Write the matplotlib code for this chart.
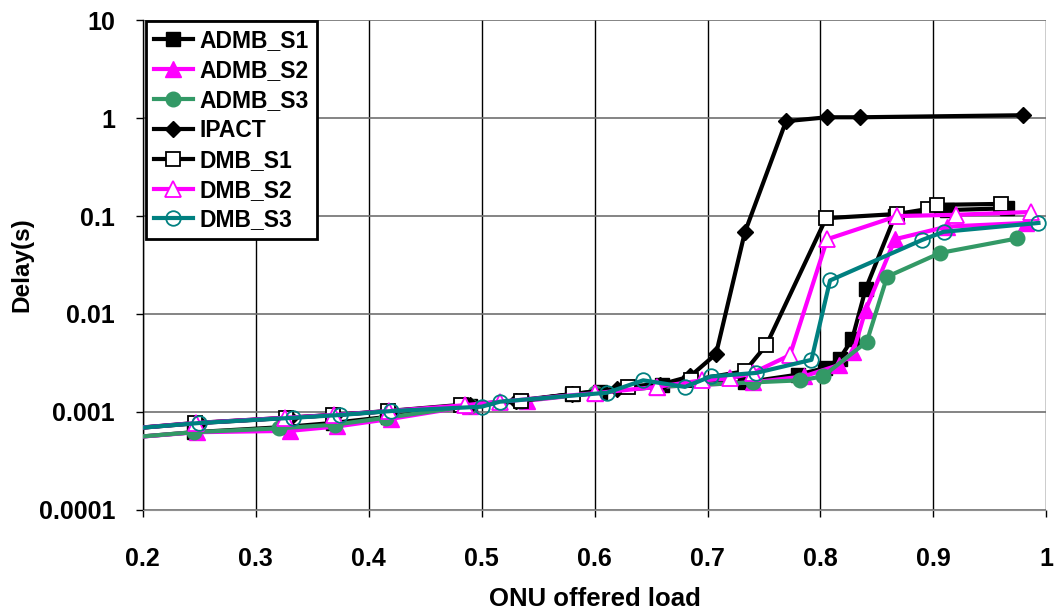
import matplotlib
matplotlib.use("Agg")
import matplotlib.pyplot as plt

plt.rcParams["font.family"] = ["Liberation Sans", "DejaVu Sans"]
plt.rcParams["font.weight"] = "bold"

# data (x = ONU offered load, y = delay in s)
admb_s1_x = [0.165, 0.245, 0.325, 0.368, 0.417, 0.49, 0.535, 0.58, 0.605, 0.66,
             0.733, 0.78, 0.804, 0.817, 0.828, 0.84, 0.866, 0.912, 0.965]
admb_s1_y = [0.00052, 0.00062, 0.00070, 0.00077, 0.00089, 0.00114, 0.0013, 0.00152,
             0.0016, 0.0019, 0.0020, 0.0024, 0.0028, 0.0035, 0.0055, 0.018, 0.10,
             0.115, 0.12]

admb_s2_x = [0.165, 0.248, 0.33, 0.372, 0.42, 0.49, 0.54, 0.60, 0.655, 0.74,
             0.785, 0.816, 0.829, 0.84, 0.866, 0.912, 0.982]
admb_s2_y = [0.00052, 0.00062, 0.00064, 0.00071, 0.00085, 0.00115, 0.0013, 0.00155,
             0.0018, 0.0020, 0.0023, 0.0030, 0.0041, 0.011, 0.058, 0.078, 0.085]

admb_s3_x = [0.165, 0.245, 0.321, 0.37, 0.415, 0.49, 0.535, 0.60, 0.655, 0.74,
             0.782, 0.802, 0.841, 0.859, 0.906, 0.974]
admb_s3_y = [0.00052, 0.00062, 0.00068, 0.00074, 0.00087, 0.00115, 0.0013, 0.00155,
             0.0018, 0.0020, 0.0021, 0.0023, 0.0052, 0.024, 0.042, 0.059]

ipact_x = [0.165, 0.25, 0.33, 0.37, 0.42, 0.49, 0.53, 0.58, 0.62, 0.658, 0.6845,
           0.7075, 0.733, 0.7695, 0.8056, 0.835, 0.979]
ipact_y = [0.00064, 0.00077, 0.00087, 0.00093, 0.00102, 0.00118, 0.0013, 0.00152,
           0.0017, 0.0019, 0.0023, 0.0039, 0.068, 0.93, 1.02, 1.02, 1.07]

dmb_s1_x = [0.165, 0.246, 0.327, 0.368, 0.417, 0.482, 0.535, 0.581, 0.63, 0.685,
            0.733, 0.752, 0.805, 0.868, 0.895, 0.903, 0.96]
dmb_s1_y = [0.00064, 0.00077, 0.00087, 0.00093, 0.00102, 0.00118, 0.0013, 0.00152,
            0.0018, 0.0021, 0.0026, 0.0048, 0.095, 0.105, 0.118, 0.13, 0.133]

dmb_s2_x = [0.165, 0.247, 0.326, 0.369, 0.418, 0.485, 0.516, 0.60, 0.655, 0.695,
            0.72, 0.74, 0.773, 0.806, 0.868, 0.92, 0.986]
dmb_s2_y = [0.00064, 0.00077, 0.00087, 0.00093, 0.00102, 0.00117, 0.00127, 0.00155,
            0.0018, 0.0021, 0.0022, 0.0025, 0.0038, 0.058, 0.10, 0.103, 0.11]

dmb_s3_x = [0.165, 0.25, 0.333, 0.375, 0.42, 0.50, 0.516, 0.611, 0.643, 0.68,
            0.703, 0.743, 0.792, 0.8085, 0.89, 0.909, 0.993]
dmb_s3_y = [0.00064, 0.00077, 0.00087, 0.00093, 0.00102, 0.00113, 0.00127, 0.00157,
            0.0021, 0.0018, 0.0023, 0.0025, 0.0034, 0.022, 0.057, 0.069, 0.085]

x_ticks = [0.2, 0.3, 0.4, 0.5, 0.6, 0.7, 0.8, 0.9, 1.0]
x_tick_labels = ["0.2", "0.3", "0.4", "0.5", "0.6", "0.7", "0.8", "0.9", "1"]
y_ticks = [0.0001, 0.001, 0.01, 0.1, 1, 10]
y_tick_labels = ["0.0001", "0.001", "0.01", "0.1", "1", "10"]

MAGENTA = "#ff00ff"
GREEN = "#339966"
TEAL = "#008080"

fig = plt.figure(figsize=(10.58, 6.12), dpi=100)
ax = fig.add_axes([0.135, 0.167, 0.854, 0.800])

lw = 3.0
ms = 10.5
ax.plot(admb_s1_x, admb_s1_y, "-s", color="black", lw=lw, ms=ms,
        mfc="black", mec="black", label="ADMB_S1", zorder=3)
ax.plot(admb_s2_x, admb_s2_y, "-^", color=MAGENTA, lw=lw, ms=ms + 1,
        mfc=MAGENTA, mec=MAGENTA, label="ADMB_S2", zorder=3)
ax.plot(admb_s3_x, admb_s3_y, "-o", color=GREEN, lw=lw, ms=ms,
        mfc=GREEN, mec=GREEN, label="ADMB_S3", zorder=3)
ax.plot(ipact_x, ipact_y, "-D", color="black", lw=lw, ms=ms - 2,
        mfc="black", mec="black", label="IPACT", zorder=3)
ax.plot(dmb_s1_x, dmb_s1_y, "-s", color="black", lw=lw, ms=ms,
        mfc="white", mec="black", mew=1.3, label="DMB_S1", zorder=4)
ax.plot(dmb_s2_x, dmb_s2_y, "-^", color=MAGENTA, lw=lw, ms=ms + 1,
        mfc="white", mec=MAGENTA, mew=1.3, label="DMB_S2", zorder=4)
ax.plot(dmb_s3_x, dmb_s3_y, "-o", color=TEAL, lw=lw, ms=ms,
        mfc="none", mec=TEAL, mew=1.3, label="DMB_S3", zorder=4)

ax.set_yscale("log")
ax.set_xlim(0.2, 1.0)
ax.set_ylim(0.0001, 10)
ax.set_xticks(x_ticks)
ax.set_xticklabels(x_tick_labels)
ax.set_yticks(y_ticks)
ax.set_yticklabels(y_tick_labels)
ax.minorticks_off()
ax.tick_params(labelsize=18, length=5, width=1)
ax.tick_params(axis="y", pad=15)
ax.tick_params(axis="x", pad=22)

ax.xaxis.grid(True, color="black", linewidth=1)
ax.yaxis.grid(True, color="#707070", linewidth=1.2)
ax.set_axisbelow(True)
for side in ["top", "right"]:
    ax.spines[side].set_visible(False)
ax.spines["left"].set_linewidth(1)
ax.spines["bottom"].set_color("#909090")

ax.set_xlabel("ONU offered load", fontsize=18.5, fontweight="bold", labelpad=11)
ax.set_ylabel("Delay(s)", fontsize=17.5, fontweight="bold", labelpad=4)

leg = ax.legend(loc="upper left", bbox_to_anchor=(0.003, 0.998), fontsize=16.5,
                frameon=True, fancybox=False, edgecolor="black",
                handlelength=1.7, handletextpad=0.3, labelspacing=0.3,
                borderpad=0.35, borderaxespad=0)
leg.get_frame().set_linewidth(2)
leg.get_frame().set_alpha(1)
for t in leg.get_texts():
    t.set_fontweight("bold")

fig.savefig("out.png", dpi=100)
